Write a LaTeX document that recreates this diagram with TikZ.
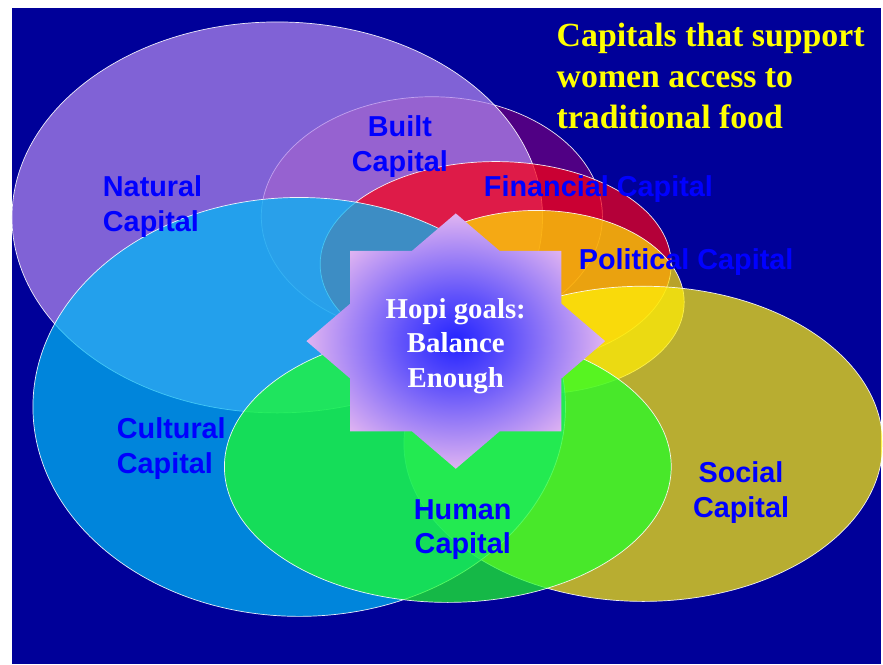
\documentclass[tikz,border=0pt]{standalone}
\usepackage{fontspec}
\setmainfont{Liberation Serif}
\setsansfont{Liberation Sans}
\usetikzlibrary{shapes.geometric,positioning}

\definecolor{slidebg}{RGB}{0,0,153}
\definecolor{naturalcol}{RGB}{178,136,238}
\definecolor{builtcol}{RGB}{112,0,125}
\definecolor{financialcol}{RGB}{250,0,20}
\definecolor{politicalcol}{RGB}{255,225,0}
\definecolor{socialcol}{RGB}{255,240,10}
\definecolor{culturalcol}{RGB}{0,185,245}
\definecolor{humancol}{RGB}{30,255,40}
\definecolor{labelblue}{RGB}{0,0,255}
\definecolor{titleyellow}{RGB}{255,255,0}
\definecolor{starpink}{RGB}{240,192,240}
\definecolor{starblue}{RGB}{35,35,255}

\pgfdeclareradialshading{hopistar}{\pgfpoint{0bp}{0bp}}{color(0bp)=(starblue); color(9bp)=(starblue!70!starpink); color(27bp)=(starpink); color(50bp)=(starpink)}

\begin{document}
\begin{tikzpicture}[
    x=1bp, y=-1bp,
    capital/.style={ellipse, draw=white, line width=0.7bp, fill opacity=0.72, draw opacity=0.9, inner sep=0pt},
    capname/.style={text=labelblue, font=\sffamily\bfseries\fontsize{29}{35}\selectfont, inner sep=0pt},
    goaltext/.style={text=white, align=center, font=\bfseries\fontsize{29}{35}\selectfont, inner sep=0pt},
    titletext/.style={text=titleyellow, align=left, font=\bfseries\fontsize{34}{41}\selectfont, inner sep=0pt}
]

% Page and slide background
\fill[white] (0,0) rectangle (883,666);
\fill[slidebg] (12,8) rectangle (883,666);

% The seven capitals
\node[capital, fill=builtcol, minimum width=342bp, minimum height=240bp] (built) at (433,217) {};
\node[capital, fill=naturalcol, minimum width=532bp, minimum height=392bp] (natural) at (278,218) {};
\node[capital, fill=financialcol, minimum width=352bp, minimum height=206bp] (financial) at (497,265) {};
\node[capital, fill=politicalcol, minimum width=296bp, minimum height=184bp] (political) at (538,303) {};
\node[capital, fill=socialcol, minimum width=480bp, minimum height=316bp] (social) at (645,445) {};
\node[capital, fill=culturalcol, minimum width=534bp, minimum height=420bp] (cultural) at (300,408) {};
\node[capital, fill=humancol, minimum width=448bp, minimum height=272bp] (human) at (449,468) {};

% Names of the capitals
\node[capname, align=left, anchor=west] (naturalname) at (103,207) {Natural\\Capital};
\node[capname, align=center] (builtname) at (401,147) {Built\\Capital};
\node[capname] (financialname) at (600,190) {Financial Capital};
\node[capname] (politicalname) at (688,263) {Political Capital};
\node[capname, align=left, anchor=west] (culturalname) at (117,450) {Cultural\\Capital};
\node[capname, align=center] (humanname) at (464,531) {Human\\Capital};
\node[capname, align=center] (socialname) at (743,494) {Social\\Capital};

% Star with the goals
\begin{scope}[shift={(457,342)}, xscale=1.17]
    \shade[shading=hopistar] (0:128) \foreach \k in {1,...,15} { -- (\k*22.5:{ifthenelse(mod(\k,2),98,128)}) } -- cycle;
\end{scope}
\node[goaltext] (goals) at (457,347) {Hopi goals:\\Balance\\Enough};

% Title
\node[titletext, anchor=north west] (title) at (558,23) {Capitals that support\\women access to\\traditional food};

\end{tikzpicture}
\end{document}
